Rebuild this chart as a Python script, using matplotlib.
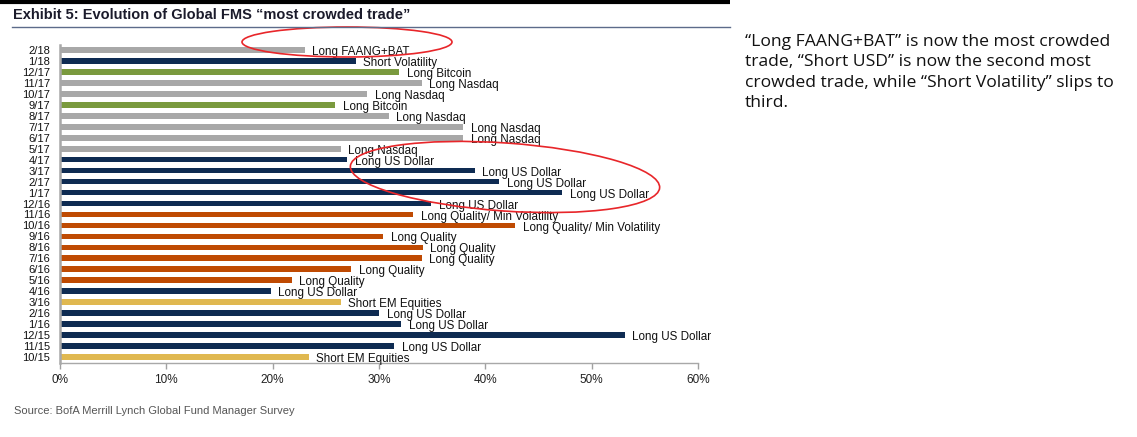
import matplotlib
matplotlib.use("Agg")
import matplotlib.pyplot as plt
from matplotlib.patches import Ellipse

# survey months, top to bottom
months = ["2/18", "1/18", "12/17", "11/17", "10/17", "9/17", "8/17", "7/17", "6/17",
          "5/17", "4/17", "3/17", "2/17", "1/17", "12/16", "11/16", "10/16", "9/16",
          "8/16", "7/16", "6/16", "5/16", "4/16", "3/16", "2/16", "1/16", "12/15",
          "11/15", "10/15"]
trades = ["Long FAANG+BAT", "Short Volatility", "Long Bitcoin", "Long Nasdaq",
          "Long Nasdaq", "Long Bitcoin", "Long Nasdaq", "Long Nasdaq", "Long Nasdaq",
          "Long Nasdaq", "Long US Dollar", "Long US Dollar", "Long US Dollar",
          "Long US Dollar", "Long US Dollar", "Long Quality/ Min Volatility",
          "Long Quality/ Min Volatility", "Long Quality", "Long Quality", "Long Quality",
          "Long Quality", "Long Quality", "Long US Dollar", "Short EM Equities",
          "Long US Dollar", "Long US Dollar", "Long US Dollar", "Long US Dollar",
          "Short EM Equities"]
share = [23.0, 27.8, 31.9, 34.0, 28.9, 25.9, 30.9, 37.9, 37.9,
         26.4, 27.0, 39.0, 41.3, 47.2, 34.9, 33.2, 42.8, 30.4,
         34.1, 34.0, 27.4, 21.8, 19.8, 26.4, 30.0, 32.1, 53.1,
         31.4, 23.4]
xticks = [0, 10, 20, 30, 40, 50, 60]

trade_colors = {
    "Long FAANG+BAT": "#A8A8A8",
    "Long Nasdaq": "#A8A8A8",
    "Short Volatility": "#0E2B52",
    "Long US Dollar": "#0E2B52",
    "Long Bitcoin": "#7A9A3E",
    "Long Quality": "#BF4A02",
    "Long Quality/ Min Volatility": "#BF4A02",
    "Short EM Equities": "#E0B850",
}

narrow = ["Liberation Sans Narrow", "Liberation Sans", "DejaVu Sans"]
W, H = 1137, 437

fig = plt.figure(figsize=(W / 100, H / 100), dpi=100)
ax = fig.add_axes([60 / W, 1 - 362.5 / H, (698 - 60) / W, (362.5 - 44.5) / H])

ypos = list(range(len(months)))
colors = [trade_colors[t] for t in trades]
ax.barh(ypos, share, height=0.52, color=colors)
ax.set_ylim(len(months) - 0.5, -0.5)
ax.set_xlim(0, 60)

for y, v, t in zip(ypos, share, trades):
    ax.annotate(t, (v, y), xytext=(5.5, -1.5), textcoords="offset points",
                ha="left", va="center", fontsize=8.4, family=narrow, color="#111111")

ax.set_yticks(ypos)
ax.set_yticklabels(months, family=narrow, fontsize=8, color="#111111")
ax.tick_params(axis="y", length=0, pad=7)
ax.set_xticks(xticks)
ax.set_xticklabels([f"{t}%" for t in xticks], family=narrow, fontsize=8.5, color="#222222")
ax.tick_params(axis="x", length=4, width=1, color="#A0A0A0", pad=4)

for s in ["top", "right"]:
    ax.spines[s].set_visible(False)
ax.spines["left"].set_color("#A8A8A8")
ax.spines["left"].set_linewidth(1.8)
ax.spines["bottom"].set_color("#A8A8A8")
ax.spines["bottom"].set_linewidth(1.0)

# overlay in pixel coordinates for header, notes and highlight rings
ov = fig.add_axes([0, 0, 1, 1], facecolor="none")
ov.set_xlim(0, W)
ov.set_ylim(H, 0)
ov.axis("off")

ov.plot([0, 730], [1.5, 1.5], color="black", lw=3, solid_capstyle="butt")
ov.plot([12, 730], [27, 27], color="#5C6B8A", lw=1)
ov.text(13, 15, "Exhibit 5: Evolution of Global FMS \u201cmost crowded trade\u201d",
        family=narrow, fontweight="bold", fontsize=10.5, color="#1B1B2B",
        ha="left", va="center")

ov.add_patch(Ellipse((347, 42), 210, 30, fill=False, ec="#E8262A", lw=1.2))
ov.add_patch(Ellipse((505, 177), 310, 68, angle=4, fill=False, ec="#E8262A", lw=1.2))

ov.text(745, 34,
        "\u201cLong FAANG+BAT\u201d is now the most crowded\n"
        "trade, \u201cShort USD\u201d is now the second most\n"
        "crowded trade, while \u201cShort Volatility\u201d slips to\n"
        "third.",
        family="Open Sans", fontsize=12.6, color="#111111",
        ha="left", va="top", linespacing=1.37)

ov.text(14, 411, "Source: BofA Merrill Lynch Global Fund Manager Survey",
        family=narrow, fontsize=8, color="#555555", ha="left", va="center")

fig.savefig("out.png", dpi=100)
